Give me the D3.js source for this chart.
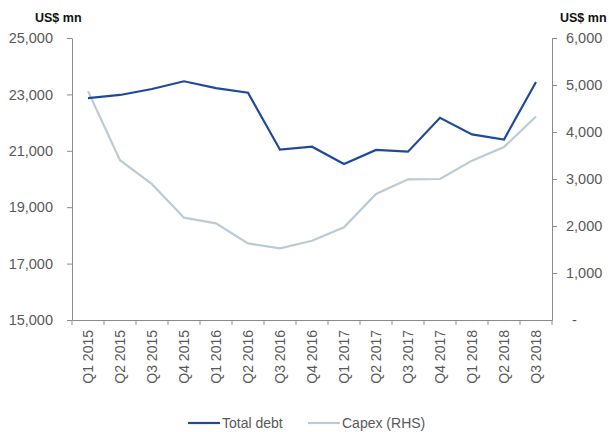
<!DOCTYPE html>
<html>
<head>
<meta charset="utf-8">
<script src="https://cdn.jsdelivr.net/npm/d3@7"></script>
<style>
  body { margin: 0; background: #fff; }
  svg { font-family: "Liberation Sans", Arial, sans-serif; }
</style>
</head>
<body>
<div id="chart"></div>
<script>
const quarters = ["Q1 2015", "Q2 2015", "Q3 2015", "Q4 2015", "Q1 2016", "Q2 2016", "Q3 2016",
  "Q4 2016", "Q1 2017", "Q2 2017", "Q3 2017", "Q4 2017", "Q1 2018", "Q2 2018", "Q3 2018"];
const totalDebt = [22870, 22980, 23190, 23465, 23220, 23060, 21040, 21145, 20530, 21030, 20970, 22170, 21580, 21400, 23440];
const capex = [4870, 3400, 2890, 2177, 2057, 1630, 1525, 1687, 1972, 2681, 2994, 3000, 3390, 3680, 4330];
const leftTicks = [15000, 17000, 19000, 21000, 23000, 25000];
const rightTicks = [0, 1000, 2000, 3000, 4000, 5000, 6000];

const width = 609, height = 432;
const margin = { top: 38, right: 57, bottom: 112, left: 72 };

const svg = d3.select("#chart").append("svg")
  .attr("width", width)
  .attr("height", height);

const x = d3.scaleBand()
  .domain(quarters)
  .range([margin.left, width - margin.right]);

const yLeft = d3.scaleLinear()
  .domain([15000, 25000])
  .range([height - margin.bottom, margin.top]);

const yRight = d3.scaleLinear()
  .domain([0, 6000])
  .range([height - margin.bottom, margin.top]);

const axisColor = "#8c8c8c";
const textColor = "#595959";

// left axis
const gl = svg.append("g")
  .attr("transform", `translate(${margin.left},0)`)
  .call(d3.axisLeft(yLeft).tickValues(leftTicks).tickSize(5).tickSizeOuter(0)
    .tickFormat(d3.format(",")));
gl.selectAll("text").attr("x", -19).attr("font-size", 14.5).attr("fill", textColor);

// right axis
const gr = svg.append("g")
  .attr("transform", `translate(${width - margin.right},0)`)
  .call(d3.axisRight(yRight).tickValues(rightTicks).tickSize(5).tickSizeOuter(0)
    .tickFormat(d => d === 0 ? "-" : d3.format(",")(d)));
gr.selectAll("text").attr("x", 14).attr("font-size", 14.5).attr("fill", textColor)
  .filter(d => d === 0).attr("x", 20);
gr.selectAll(".tick").filter(d => d === 0).select("line").attr("x2", 0);

// bottom axis with ticks at band boundaries
const gb = svg.append("g")
  .attr("transform", `translate(0,${height - margin.bottom})`)
  .call(d3.axisBottom(x).tickSize(0).tickSizeOuter(0));
gb.selectAll("text")
  .attr("transform", "rotate(-90)")
  .attr("text-anchor", "end")
  .attr("x", -10)
  .attr("y", 0)
  .attr("dy", "0.35em")
  .attr("font-size", 14)
  .attr("fill", textColor);
gb.selectAll(".band-tick")
  .data(quarters.concat(["end"]))
  .join("line")
  .attr("class", "band-tick")
  .attr("x1", (d, i) => margin.left + i * x.bandwidth())
  .attr("x2", (d, i) => margin.left + i * x.bandwidth())
  .attr("y1", 0)
  .attr("y2", 5)
  .attr("stroke", axisColor);

svg.selectAll(".domain").attr("stroke", axisColor);
svg.selectAll(".tick line").attr("stroke", axisColor);

// lines
const cx = d => x(d) + x.bandwidth() / 2;

svg.append("path")
  .datum(capex)
  .attr("fill", "none")
  .attr("stroke", "#bccbd5")
  .attr("stroke-width", 2.2)
  .attr("d", d3.line().x((d, i) => cx(quarters[i])).y(d => yRight(d)));

svg.append("path")
  .datum(totalDebt)
  .attr("fill", "none")
  .attr("stroke", "#1f4a9b")
  .attr("stroke-width", 2.2)
  .attr("d", d3.line().x((d, i) => cx(quarters[i])).y(d => yLeft(d)));

// unit labels
svg.append("text").attr("x", 35).attr("y", 22).text("US$ mn")
  .attr("font-size", 12.5).attr("font-weight", "bold").attr("fill", "#111");
svg.append("text").attr("x", 560).attr("y", 22).text("US$ mn")
  .attr("font-size", 12.5).attr("font-weight", "bold").attr("fill", "#111");

// legend
const legend = [
  { name: "Total debt", color: "#1f4a9b", x: 188 },
  { name: "Capex (RHS)", color: "#bccbd5", x: 308 }
];
const lg = svg.selectAll(".legend").data(legend).join("g")
  .attr("transform", d => `translate(${d.x},423)`);
lg.append("line").attr("x1", 0).attr("x2", 32)
  .attr("stroke", d => d.color).attr("stroke-width", 2.2);
lg.append("text").attr("x", 34).attr("dy", "0.35em")
  .attr("font-size", 14).attr("fill", textColor).text(d => d.name);
</script>
</body>
</html>
